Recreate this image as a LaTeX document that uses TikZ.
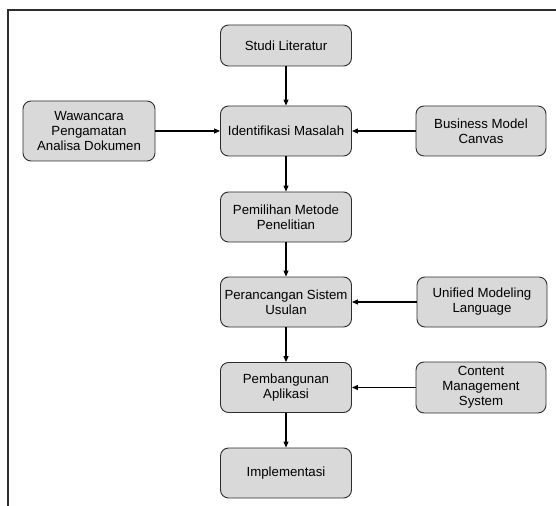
\documentclass[tikz,border=0pt]{standalone}
\usepackage{fontspec}
\setmainfont{Liberation Sans}
\usetikzlibrary{arrows.meta}
\definecolor{boxgray}{RGB}{217,217,217}
\definecolor{edgegray}{RGB}{45,45,45}
\begin{document}
\begin{tikzpicture}[x=1bp,y=-1bp,
  box/.style={draw=edgegray, fill=boxgray, rounded corners=8bp, line width=0.9bp,
    minimum width=131bp, minimum height=50bp, align=center, inner sep=1bp,
    font=\fontsize{13.3}{15}\selectfont},
  flow/.style={-{Triangle[length=6bp,width=5bp]}, line width=1.1bp, black}]
\useasboundingbox (0,0) rectangle (556,506);

% frame
\draw[line width=1.3bp, edgegray] (8,506) -- (8,10) -- (556,10);

% main column
\node[box, minimum height=41bp] (studi) at (286,45.5) {Studi Literatur};
\node[box] (ident) at (286,131) {Identifikasi Masalah};
\node[box] (pilih) at (286,217) {Pemilihan Metode\\Penelitian};
\node[box] (rancang) at (286,302) {Perancangan Sistem\\Usulan};
\node[box] (bangun) at (286,387.5) {Pembangunan\\Aplikasi};
\node[box] (impl) at (286,473) {Implementasi};

% side inputs
\node[box, minimum width=132bp, minimum height=60bp] (wawan) at (89,131) {Wawancara\\Pengamatan\\Analisa Dokumen};
\node[box, minimum width=130bp] (bmc) at (481,131) {Business Model\\Canvas};
\node[box, minimum width=130bp] (uml) at (482,302) {Unified Modeling\\Language};
\node[box, minimum width=130bp, minimum height=51bp] (cms) at (481,387.5) {Content\\Management\\System};

% connectors
\draw[flow] (studi) -- (ident);
\draw[flow] (wawan) -- (ident);
\draw[flow] (bmc) -- (ident);
\draw[flow] (ident) -- (pilih);
\draw[flow] (pilih) -- (rancang);
\draw[flow] (uml) -- (rancang);
\draw[flow] (rancang) -- (bangun);
\draw[flow] (cms) -- (bangun);
\draw[flow] (bangun) -- (impl);
\end{tikzpicture}
\end{document}
